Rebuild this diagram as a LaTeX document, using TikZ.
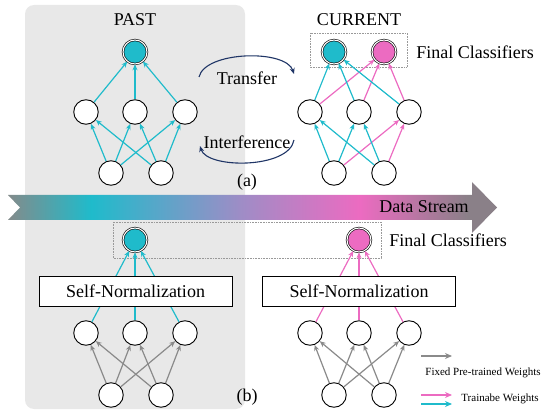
\documentclass[tikz,border=0pt]{standalone}
\usepackage{fontspec}
\setmainfont{Liberation Serif}
\usetikzlibrary{arrows.meta}
\definecolor{ccyan}{HTML}{1FBBCB}
\definecolor{cpink}{HTML}{EC6BC1}
\definecolor{spurple}{HTML}{A08CC6}
\definecolor{sgrayL}{HTML}{838B8B}
\definecolor{sgrayR}{HTML}{8A8088}
\definecolor{bggray}{HTML}{E8E8E8}
\definecolor{navy}{HTML}{1F3566}
\definecolor{fixgray}{HTML}{8A8A8A}
\pgfdeclarehorizontalshading{streamshade}{100bp}{color(0bp)=(sgrayL); color(25bp)=(sgrayL); color(33.5bp)=(ccyan); color(49bp)=(spurple); color(61bp)=(cpink); color(72bp)=(sgrayR); color(75bp)=(sgrayR); color(100bp)=(sgrayR)}
\tikzset{
  neuron/.style={circle, draw=black, fill=white, line width=0.9pt, minimum size=24.5pt, inner sep=0pt},
  cls/.style={circle, draw=black, double=white, double distance=1.1pt, line width=0.6pt, minimum size=24pt, inner sep=0pt},
  tip/.style={-{Stealth[length=6pt,width=5pt]}},
  cedge/.style={draw=ccyan, line width=1.2pt, tip},
  pedge/.style={draw=cpink, line width=1.2pt, tip},
  gedge/.style={draw=fixgray, line width=1.2pt, tip},
  dotbox/.style={draw=gray!80, line width=0.7pt, dash pattern=on 0.7pt off 0.9pt},
  snbox/.style={draw=black, fill=white, line width=0.9pt, minimum width=193pt, minimum height=30pt, inner sep=0pt, font=\fontsize{18}{20}\selectfont},
  big/.style={font=\fontsize{18}{20}\selectfont, inner sep=0pt},
  small/.style={font=\fontsize{11}{13}\selectfont, inner sep=0pt},
  arc/.style={draw=navy, line width=1.1pt, -{Stealth[length=6pt,width=5pt]}},
  legarrow/.style={line width=1.6pt, -{Stealth[length=7pt,width=6pt]}}
}
\begin{document}
\begin{tikzpicture}[x=1pt,y=-1pt]
\useasboundingbox (0,0) rectangle (542,412);
% PAST background
\fill[bggray, rounded corners=9pt] (25,5) rectangle (245,409);
% data stream arrow
\shade[shading=streamshade] (8,195) -- (472,195) -- (472,182) -- (497,207.5) -- (472,233) -- (472,220) -- (8,220) -- (20,207.5) -- cycle;
\node[big] (ds) at (424,207) {Data Stream};
% dotted boxes
\draw[dotbox] (310,33) rectangle (407,67);
\draw[dotbox] (113,222) rectangle (381,258);
% titles
\node[big] (past) at (135,20) {PAST};
\node[big] (cur) at (359,20) {CURRENT};
\node[big] (fc1) at (475,52) {Final Classifiers};
\node[big] (fc2) at (448,240) {Final Classifiers};
% ---------- (a) PAST ----------
\node[cls, fill=ccyan] (pc) at (135,52) {};
\node[neuron] (pm1) at (86,112) {};
\node[neuron] (pm2) at (135,112) {};
\node[neuron] (pm3) at (185,112) {};
\node[neuron] (pb1) at (111,173) {};
\node[neuron] (pb2) at (161,173) {};
\foreach \m in {pm1,pm2,pm3} {\draw[cedge] (\m) -- (pc);}
\foreach \b in {pb1,pb2} {\foreach \m in {pm1,pm2,pm3} {\draw[cedge] (\b) -- (\m);}}
% ---------- (a) CURRENT ----------
\node[cls, fill=ccyan] (cc1) at (334,52) {};
\node[cls, fill=cpink] (cc2) at (384,52) {};
\node[neuron] (cm1) at (310,112) {};
\node[neuron] (cm2) at (359,112) {};
\node[neuron] (cm3) at (409,112) {};
\node[neuron] (cb1) at (334,173) {};
\node[neuron] (cb2) at (384,173) {};
\foreach \m in {cm1,cm2,cm3} {\draw[cedge] (\m) -- (cc1); \draw[pedge] (\m) -- (cc2);}
\foreach \b in {cb1,cb2} {\draw[cedge] (\b) -- (cm1); \draw[cedge] (\b) -- (cm2); \draw[pedge] (\b) -- (cm3);}
% transfer / interference arcs
\coordinate (t1) at (199,77);
\coordinate (t2) at (294,74);
\coordinate (i1) at (294,140);
\coordinate (i2) at (200,146);
\draw[arc] (t1) .. controls (205,51) and (286,49) .. (t2);
\draw[arc] (i1) .. controls (289,169) and (207,169) .. (i2);
\node[big] (tr) at (247,78) {Transfer};
\node[big] (in) at (247,142) {Interference};
\node[big] (la) at (247,182) {(a)};
% ---------- (b) left ----------
\node[cls, fill=ccyan] (lc) at (135,240) {};
\node[neuron] (lm1) at (86,333) {};
\node[neuron] (lm2) at (135,333) {};
\node[neuron] (lm3) at (185,333) {};
\node[neuron] (lb1) at (111,395) {};
\node[neuron] (lb2) at (161,395) {};
\foreach \m in {lm1,lm2,lm3} {\draw[cedge] (\m) -- (lc);}
\foreach \b in {lb1,lb2} {\foreach \m in {lm1,lm2,lm3} {\draw[gedge] (\b) -- (\m);}}
% ---------- (b) right ----------
\node[cls, fill=cpink] (rc) at (359,240) {};
\node[neuron] (rm1) at (310,333) {};
\node[neuron] (rm2) at (359,333) {};
\node[neuron] (rm3) at (409,333) {};
\node[neuron] (rb1) at (334,395) {};
\node[neuron] (rb2) at (384,395) {};
\foreach \m in {rm1,rm2,rm3} {\draw[pedge] (\m) -- (rc);}
\foreach \b in {rb1,rb2} {\foreach \m in {rm1,rm2,rm3} {\draw[gedge] (\b) -- (\m);}}
% self-normalization boxes
\node[snbox] (sn1) at (135.5,291) {Self-Normalization};
\node[snbox] (sn2) at (359,291) {Self-Normalization};
\node[big] (lb) at (247,397) {(b)};
% legend
\coordinate (g1) at (421,356); \coordinate (g2) at (452,356);
\coordinate (p1) at (421,395); \coordinate (p2) at (452,395);
\coordinate (q1) at (421,404); \coordinate (q2) at (452,404);
\draw[legarrow, draw=fixgray] (g1) -- (g2);
\draw[legarrow, draw=cpink] (p1) -- (p2);
\draw[legarrow, draw=ccyan] (q1) -- (q2);
\node[small] (lfix) at (483,373) {Fixed Pre-trained Weights};
\node[small] (ltr) at (500,399) {Trainabe Weights};
\end{tikzpicture}
\end{document}
